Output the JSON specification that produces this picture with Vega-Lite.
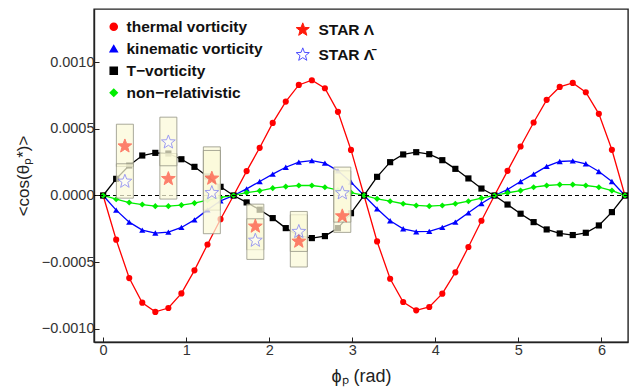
{
  "$schema": "https://vega.github.io/schema/vega-lite/v6.json",
  "width": 534,
  "height": 333,
  "autosize": {"type": "none"},
  "padding": {"left": 94, "top": 9, "right": 1, "bottom": 50},
  "background": "white",
  "config": {
    "font": "Liberation Sans",
    "view": {"stroke": "#222222", "strokeWidth": 1.4},
    "axis": {
      "grid": false,
      "domainColor": "#222222",
      "domainWidth": 1.4,
      "tickColor": "#222222",
      "tickWidth": 1,
      "labelColor": "#333333",
      "labelFont": "Liberation Sans",
      "labelFontSize": 14.5,
      "titleFont": "Liberation Sans",
      "titleFontWeight": "normal",
      "titleColor": "#222222"
    }
  },
  "datasets": {
    "curves": [
      {"phi": 0.00000, "thermal": 0, "kinematic": 0, "tvort": 0, "nonrel": 0},
      {"phi": 0.15708, "thermal": -0.000332, "kinematic": -0.000110, "tvort": 0.000125, "nonrel": -0.000028},
      {"phi": 0.31416, "thermal": -0.000620, "kinematic": -0.000200, "tvort": 0.000225, "nonrel": -0.000053},
      {"phi": 0.47124, "thermal": -0.000805, "kinematic": -0.000260, "tvort": 0.000300, "nonrel": -0.000068},
      {"phi": 0.62832, "thermal": -0.000874, "kinematic": -0.000282, "tvort": 0.000320, "nonrel": -0.000080},
      {"phi": 0.78540, "thermal": -0.000845, "kinematic": -0.000275, "tvort": 0.000315, "nonrel": -0.000080},
      {"phi": 0.94248, "thermal": -0.000735, "kinematic": -0.000240, "tvort": 0.000272, "nonrel": -0.000072},
      {"phi": 1.09956, "thermal": -0.000562, "kinematic": -0.000183, "tvort": 0.000215, "nonrel": -0.000057},
      {"phi": 1.25664, "thermal": -0.000368, "kinematic": -0.000108, "tvort": 0.000143, "nonrel": -0.000035},
      {"phi": 1.41372, "thermal": -0.000178, "kinematic": -0.000040, "tvort": 0.000065, "nonrel": -0.000014},
      {"phi": 1.57080, "thermal": 0, "kinematic": 0, "tvort": 0, "nonrel": 0},
      {"phi": 1.72788, "thermal": 0.000183, "kinematic": 0.000050, "tvort": -0.000052, "nonrel": 0.000022},
      {"phi": 1.88496, "thermal": 0.000358, "kinematic": 0.000105, "tvort": -0.000107, "nonrel": 0.000035},
      {"phi": 2.04204, "thermal": 0.000545, "kinematic": 0.000160, "tvort": -0.000170, "nonrel": 0.000055},
      {"phi": 2.19911, "thermal": 0.000705, "kinematic": 0.000212, "tvort": -0.000245, "nonrel": 0.000067},
      {"phi": 2.35619, "thermal": 0.000830, "kinematic": 0.000250, "tvort": -0.000302, "nonrel": 0.000075},
      {"phi": 2.51327, "thermal": 0.000865, "kinematic": 0.000262, "tvort": -0.000320, "nonrel": 0.000075},
      {"phi": 2.67035, "thermal": 0.000805, "kinematic": 0.000243, "tvort": -0.000305, "nonrel": 0.000062},
      {"phi": 2.82743, "thermal": 0.000628, "kinematic": 0.000185, "tvort": -0.000245, "nonrel": 0.000040},
      {"phi": 2.98451, "thermal": 0.000342, "kinematic": 0.000100, "tvort": -0.000133, "nonrel": 0.000022},
      {"phi": 3.14159, "thermal": 0, "kinematic": 0, "tvort": 0, "nonrel": 0},
      {"phi": 3.29867, "thermal": -0.000345, "kinematic": -0.000100, "tvort": 0.000140, "nonrel": -0.000025},
      {"phi": 3.45575, "thermal": -0.000625, "kinematic": -0.000190, "tvort": 0.000250, "nonrel": -0.000043},
      {"phi": 3.61283, "thermal": -0.000800, "kinematic": -0.000250, "tvort": 0.000308, "nonrel": -0.000062},
      {"phi": 3.76991, "thermal": -0.000862, "kinematic": -0.000272, "tvort": 0.000325, "nonrel": -0.000075},
      {"phi": 3.92699, "thermal": -0.000837, "kinematic": -0.000270, "tvort": 0.000310, "nonrel": -0.000080},
      {"phi": 4.08407, "thermal": -0.000737, "kinematic": -0.000240, "tvort": 0.000265, "nonrel": -0.000075},
      {"phi": 4.24115, "thermal": -0.000577, "kinematic": -0.000200, "tvort": 0.000200, "nonrel": -0.000062},
      {"phi": 4.39823, "thermal": -0.000387, "kinematic": -0.000130, "tvort": 0.000128, "nonrel": -0.000043},
      {"phi": 4.55531, "thermal": -0.000190, "kinematic": -0.000060, "tvort": 0.000052, "nonrel": -0.000020},
      {"phi": 4.71239, "thermal": 0, "kinematic": 0, "tvort": 0, "nonrel": 0},
      {"phi": 4.86947, "thermal": 0.000185, "kinematic": 0.000045, "tvort": -0.000068, "nonrel": 0.000020},
      {"phi": 5.02655, "thermal": 0.000368, "kinematic": 0.000105, "tvort": -0.000137, "nonrel": 0.000037},
      {"phi": 5.18363, "thermal": 0.000548, "kinematic": 0.000160, "tvort": -0.000200, "nonrel": 0.000062},
      {"phi": 5.34071, "thermal": 0.000718, "kinematic": 0.000218, "tvort": -0.000255, "nonrel": 0.000075},
      {"phi": 5.49779, "thermal": 0.000815, "kinematic": 0.000255, "tvort": -0.000285, "nonrel": 0.000082},
      {"phi": 5.65487, "thermal": 0.000845, "kinematic": 0.000260, "tvort": -0.000297, "nonrel": 0.000082},
      {"phi": 5.81195, "thermal": 0.000775, "kinematic": 0.000238, "tvort": -0.000280, "nonrel": 0.000075},
      {"phi": 5.96903, "thermal": 0.000613, "kinematic": 0.000180, "tvort": -0.000225, "nonrel": 0.000062},
      {"phi": 6.12611, "thermal": 0.000343, "kinematic": 0.000105, "tvort": -0.000125, "nonrel": 0.000037},
      {"phi": 6.28319, "thermal": 0, "kinematic": 0, "tvort": 0, "nonrel": 0}
    ],
    "star": [
      {"phi": 0.2618, "particle": "L", "value": 0.000370, "lo": 0.000218, "hi": 0.000535},
      {"phi": 0.2618, "particle": "AL", "value": 0.000105, "lo": -0.000020, "hi": 0.000238},
      {"phi": 0.7854, "particle": "L", "value": 0.000125, "lo": -0.000027, "hi": 0.000315},
      {"phi": 0.7854, "particle": "AL", "value": 0.000400, "lo": 0.000223, "hi": 0.000588},
      {"phi": 1.3090, "particle": "L", "value": 0.000128, "lo": -0.000110, "hi": 0.000365},
      {"phi": 1.3090, "particle": "AL", "value": 0.000020, "lo": -0.000287, "hi": 0.000338},
      {"phi": 1.8326, "particle": "L", "value": -0.000232, "lo": -0.000407, "hi": -0.000065},
      {"phi": 1.8326, "particle": "AL", "value": -0.000338, "lo": -0.000480, "hi": -0.000175},
      {"phi": 2.3562, "particle": "L", "value": -0.000345, "lo": -0.000537, "hi": -0.000145},
      {"phi": 2.3562, "particle": "AL", "value": -0.000272, "lo": -0.000420, "hi": -0.000120},
      {"phi": 2.8798, "particle": "L", "value": -0.000155, "lo": -0.000277, "hi": 0.000185},
      {"phi": 2.8798, "particle": "AL", "value": 0.000018, "lo": -0.000200, "hi": 0.000213}
    ]
  },
  "layer": [
    {
      "data": {"name": "curves"},
      "transform": [{"fold": ["thermal", "kinematic", "tvort", "nonrel"], "as": ["series", "value"]}],
      "mark": {"type": "line", "strokeWidth": 1.3},
      "encoding": {
        "x": {
          "field": "phi", "type": "quantitative",
          "scale": {"domain": [-0.11, 6.32], "nice": false, "zero": false},
          "axis": {"orient": "bottom", "title": "ϕₚ (rad)", "titleFontSize": 18, "titlePadding": 11, "values": [0, 1, 2, 3, 4, 5, 6], "format": "d", "tickSize": -5, "labelPadding": 6}
        },
        "y": {
          "field": "value", "type": "quantitative",
          "scale": {"domain": [-0.0011, 0.0014], "nice": false, "zero": false},
          "axis": {"orient": "left", "title": "<cos(θₚ*)>", "titleFontSize": 17, "values": [-0.001, -0.0005, 0, 0.0005, 0.001], "labelExpr": "replace(format(datum.value, '.4f'), '-', '−')", "tickSize": -5, "labelPadding": 5, "titlePadding": 9}
        },
        "color": {
          "field": "series", "type": "nominal",
          "scale": {"domain": ["thermal", "kinematic", "tvort", "nonrel"], "range": ["#ff0000", "#0000ff", "#000000", "#00ee00"]},
          "legend": {
            "orient": "none", "legendX": 12, "legendY": 10, "title": null, "padding": 0,
            "labelFont": "Liberation Sans", "labelFontWeight": "bold", "labelFontSize": 15.5, "labelColor": "#111111",
            "labelExpr": "datum.label == 'thermal' ? 'thermal vorticity' : datum.label == 'kinematic' ? 'kinematic vorticity' : datum.label == 'tvort' ? 'T−vorticity' : 'non−relativistic'",
            "symbolSize": 50, "rowPadding": 5, "labelOffset": 5
          }
        }
      }
    },
    {
      "data": {"name": "curves"},
      "transform": [{"fold": ["thermal", "kinematic", "tvort", "nonrel"], "as": ["series", "value"]}],
      "mark": {"type": "point", "filled": true, "opacity": 1, "size": 38},
      "encoding": {
        "x": {"field": "phi", "type": "quantitative"},
        "y": {"field": "value", "type": "quantitative"},
        "color": {
          "field": "series", "type": "nominal",
          "legend": {
            "orient": "none", "legendX": 12, "legendY": 10, "title": null, "padding": 0,
            "labelFont": "Liberation Sans", "labelFontWeight": "bold", "labelFontSize": 15.5, "labelColor": "#111111",
            "labelExpr": "datum.label == 'thermal' ? 'thermal vorticity' : datum.label == 'kinematic' ? 'kinematic vorticity' : datum.label == 'tvort' ? 'T−vorticity' : 'non−relativistic'",
            "symbolSize": 50, "rowPadding": 5, "labelOffset": 5
          }
        },
        "shape": {
          "field": "series", "type": "nominal",
          "scale": {"domain": ["thermal", "kinematic", "tvort", "nonrel"], "range": ["circle", "triangle-up", "square", "diamond"]},
          "legend": {
            "orient": "none", "legendX": 12, "legendY": 10, "title": null, "padding": 0,
            "labelFont": "Liberation Sans", "labelFontWeight": "bold", "labelFontSize": 15.5, "labelColor": "#111111",
            "labelExpr": "datum.label == 'thermal' ? 'thermal vorticity' : datum.label == 'kinematic' ? 'kinematic vorticity' : datum.label == 'tvort' ? 'T−vorticity' : 'non−relativistic'",
            "symbolSize": 50, "rowPadding": 5, "labelOffset": 5
          }
        }
      }
    },
    {
      "data": {"values": [{}]},
      "mark": {"type": "rule", "strokeDash": [4, 3], "color": "#000000", "strokeWidth": 1.2},
      "encoding": {"y": {"datum": 0, "type": "quantitative"}}
    },
    {
      "data": {"name": "star"},
      "mark": {"type": "rect", "width": 17, "fill": "#fbfad8", "fillOpacity": 0.72, "stroke": "#8f8f80", "strokeWidth": 0.9, "strokeOpacity": 0.85},
      "encoding": {
        "x": {"field": "phi", "type": "quantitative"},
        "y": {"field": "lo", "type": "quantitative"},
        "y2": {"field": "hi"}
      }
    },
    {
      "data": {"name": "star"},
      "mark": {
        "type": "point",
        "shape": "M0,-1L0.247,-0.34L0.951,-0.309L0.399,0.13L0.588,0.809L0,0.42L-0.588,0.809L-0.399,0.13L-0.951,-0.309L-0.247,-0.34Z",
        "filled": true, "size": 210, "opacity": 0.55, "strokeWidth": 1
      },
      "encoding": {
        "x": {"field": "phi", "type": "quantitative"},
        "y": {"field": "value", "type": "quantitative"},
        "fill": {
          "field": "particle", "type": "nominal",
          "scale": {"domain": ["L", "AL"], "range": ["#ff1a0a", "#ffffff"]},
          "legend": {
            "orient": "none", "legendX": 201, "legendY": 13, "title": null, "padding": 0,
            "labelFont": "Liberation Sans", "labelFontWeight": "bold", "labelFontSize": 15.5, "labelColor": "#111111",
            "labelExpr": "datum.label == 'L' ? 'STAR Λ' : 'STAR Λ̄'",
            "symbolType": "M0,-1L0.247,-0.34L0.951,-0.309L0.399,0.13L0.588,0.809L0,0.42L-0.588,0.809L-0.399,0.13L-0.951,-0.309L-0.247,-0.34Z",
            "symbolSize": 190, "symbolOpacity": 1, "symbolStrokeWidth": 1, "rowPadding": 6, "labelOffset": 8
          }
        },
        "stroke": {
          "field": "particle", "type": "nominal",
          "scale": {"domain": ["L", "AL"], "range": ["#ff1a0a", "#5050ff"]},
          "legend": {
            "orient": "none", "legendX": 201, "legendY": 13, "title": null, "padding": 0,
            "labelFont": "Liberation Sans", "labelFontWeight": "bold", "labelFontSize": 15.5, "labelColor": "#111111",
            "labelExpr": "datum.label == 'L' ? 'STAR Λ' : 'STAR Λ̄'",
            "symbolType": "M0,-1L0.247,-0.34L0.951,-0.309L0.399,0.13L0.588,0.809L0,0.42L-0.588,0.809L-0.399,0.13L-0.951,-0.309L-0.247,-0.34Z",
            "symbolSize": 190, "symbolOpacity": 1, "symbolStrokeWidth": 1, "rowPadding": 6, "labelOffset": 8
          }
        }
      }
    }
  ]
}
